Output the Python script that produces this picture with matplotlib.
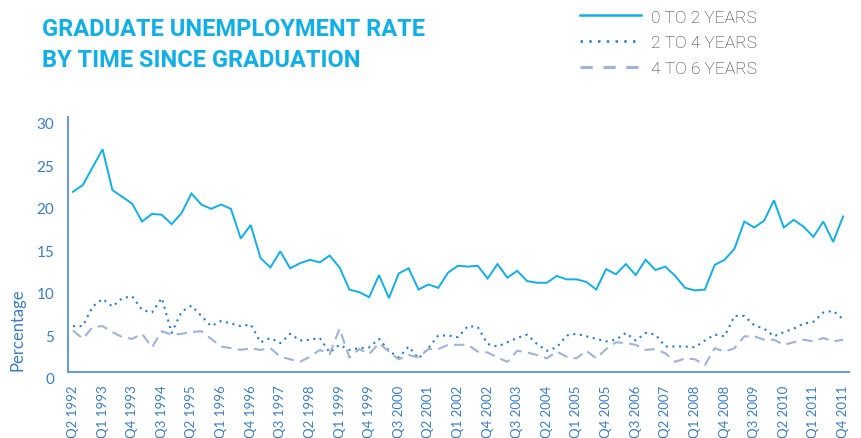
import matplotlib
matplotlib.use('Agg')
import matplotlib.pyplot as plt
from matplotlib.lines import Line2D

# quarterly graduate unemployment rates, Q2 1992 .. Q4 2011
years_0_2 = [21.2, 22.0, 24.1, 26.2, 21.4, 20.6, 19.8, 17.7, 18.6, 18.5,
             17.4, 18.7, 21.0, 19.7, 19.2, 19.7, 19.2, 15.7, 17.3, 13.4,
             12.3, 14.2, 12.2, 12.8, 13.2, 12.9, 13.7, 12.3, 9.7, 9.4,
             8.8, 11.4, 8.7, 11.6, 12.2, 9.7, 10.3, 9.9, 11.7, 12.5,
             12.4, 12.5, 11.0, 12.7, 11.1, 11.9, 10.7, 10.5, 10.5, 11.3,
             10.9, 10.9, 10.6, 9.7, 12.1, 11.5, 12.7, 11.4, 13.2, 12.0,
             12.4, 11.3, 9.9, 9.6, 9.7, 12.6, 13.2, 14.5, 17.7, 17.0,
             17.8, 20.2, 17.0, 17.9, 17.1, 15.9, 17.7, 15.3, 18.3]
years_2_4 = [5.4, 5.4, 7.7, 8.6, 7.7, 8.7, 8.9, 7.3, 7.0, 8.7,
             4.6, 7.1, 7.8, 6.6, 5.4, 6.0, 5.7, 5.4, 5.6, 3.5,
             4.0, 3.4, 4.5, 3.7, 3.8, 4.0, 2.3, 3.2, 2.6, 2.8,
             2.9, 3.9, 2.5, 1.7, 3.0, 1.6, 2.8, 4.3, 4.3, 4.1,
             5.4, 5.3, 3.3, 3.0, 3.5, 4.0, 4.4, 3.3, 2.5, 2.9,
             4.3, 4.5, 4.2, 3.9, 3.6, 3.8, 4.6, 3.7, 4.6, 4.4,
             3.0, 3.0, 3.0, 2.9, 3.7, 4.4, 4.2, 6.6, 6.6, 5.5,
             5.1, 4.2, 4.7, 5.1, 5.7, 5.9, 7.0, 7.2, 6.2]
years_4_6 = [4.9, 3.9, 5.3, 5.4, 4.7, 4.1, 3.9, 4.5, 2.9, 4.8,
             4.4, 4.5, 4.7, 4.8, 3.9, 3.0, 2.8, 2.6, 2.8, 2.6,
             2.8, 1.8, 1.5, 1.2, 1.8, 2.6, 2.1, 5.1, 1.7, 2.7,
             2.1, 3.4, 2.4, 1.5, 2.0, 1.7, 2.7, 2.7, 3.2, 3.2,
             3.2, 2.4, 2.3, 1.7, 1.2, 2.5, 2.3, 2.0, 1.6, 2.4,
             1.8, 1.6, 2.5, 1.6, 2.7, 3.5, 3.4, 3.2, 2.6, 2.7,
             2.2, 1.2, 1.6, 1.5, 0.8, 2.8, 2.4, 2.8, 4.2, 4.2,
             3.8, 3.8, 3.2, 3.5, 3.8, 3.6, 4.0, 3.6, 3.8]

quarters = []
for year in range(1992, 2012):
    for q in range(1, 5):
        if year == 1992 and q == 1:
            continue
        quarters.append('Q%d %d' % (q, year))

series_labels = ['0 TO 2 YEARS', '2 TO 4 YEARS', '4 TO 6 YEARS']

CYAN = '#12aee8'
DOT_BLUE = '#2b7cc4'
DASH_BLUE = '#9fb3d6'
AXIS_BLUE = '#6d9bd1'
TEXT_BLUE = '#3c7dc2'

fig = plt.figure(figsize=(8.62, 4.39), dpi=100)
ax = fig.add_axes([0.0789, 0.1503, 0.906, 0.5809])

x = range(len(quarters))
ax.plot(x, years_0_2, color=CYAN, lw=1.4, solid_joinstyle='miter')
ax.plot(x, years_2_4, color=DOT_BLUE, lw=1.5, linestyle=(0, (1, 2.2)))
ax.plot(x, years_4_6, color=DASH_BLUE, lw=1.5, linestyle=(0, (5, 3)))

ax.set_xlim(-0.5, len(quarters) - 0.4)
ax.set_ylim(0, 30)
ax.set_yticks(range(0, 31, 5))
ax.set_xticks(list(x)[::3])
ax.set_xticklabels(quarters[::3], rotation=90, family='Lato', fontsize=9.5,
                   color=TEXT_BLUE)
for lab in ax.get_yticklabels():
    lab.set_family('Lato')
    lab.set_fontsize(11)
    lab.set_color(TEXT_BLUE)
    lab.set_va('top')
ax.tick_params(axis='both', length=0)
ax.tick_params(axis='y', pad=10)
ax.tick_params(axis='x', pad=9)

for side in ['top', 'right']:
    ax.spines[side].set_visible(False)
for side in ['left', 'bottom']:
    ax.spines[side].set_color(AXIS_BLUE)
    ax.spines[side].set_linewidth(1.5)

ax.set_ylabel('Percentage', family='Lato', fontsize=12, color=TEXT_BLUE)
ax.yaxis.set_label_coords(-0.055, 0.17)

fig.text(0.049, 0.958, 'GRADUATE UNEMPLOYMENT RATE\nBY TIME SINCE GRADUATION',
         family='Roboto', weight='bold',
         fontsize=17, color=CYAN, va='top', ha='left', linespacing=1.4)

handles = [Line2D([], [], color=CYAN, lw=1.8),
           Line2D([], [], color=DOT_BLUE, lw=1.8, linestyle=(0, (1, 2.5))),
           Line2D([], [], color=DASH_BLUE, lw=2.2, linestyle=(0, (4, 3.5)))]
leg = fig.legend(handles, series_labels, loc='upper left',
                 bbox_to_anchor=(0.655, 1.012), frameon=False,
                 handlelength=3.5, handletextpad=0.55, labelspacing=0.62,
                 prop={'family': 'Roboto', 'weight': 'light', 'size': 12.5})
for t in leg.get_texts():
    t.set_color('#333333')

fig.savefig('out.png', dpi=100)
